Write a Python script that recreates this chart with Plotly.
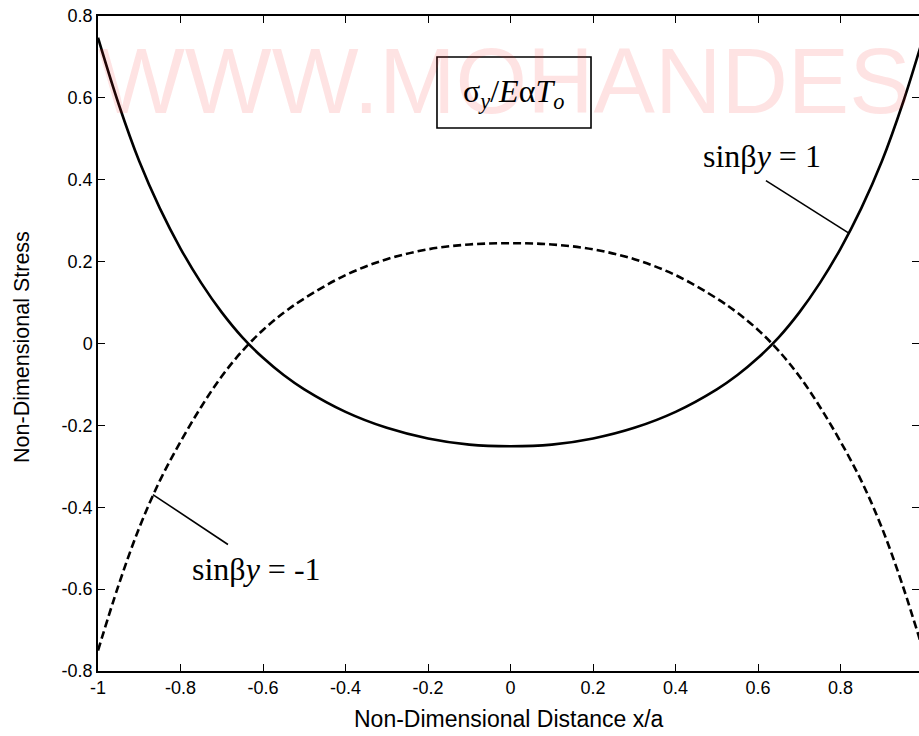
import plotly.graph_objects as go

# x/a positions and the two stress curves
x_pos = [-1.0, -0.95, -0.9, -0.85, -0.8, -0.75, -0.7, -0.65, -0.6, -0.55, -0.5, -0.4, -0.3, -0.2, -0.1,
         0.0, 0.1, 0.2, 0.3, 0.4, 0.5, 0.55, 0.6, 0.65, 0.7, 0.75, 0.8, 0.85, 0.9, 0.95, 1.0]
stress_pos = [0.747, 0.585, 0.445, 0.33, 0.232, 0.148, 0.076, 0.015, -0.035, -0.077, -0.112, -0.167, -0.206, -0.232, -0.247,
              -0.251, -0.247, -0.232, -0.206, -0.167, -0.112, -0.077, -0.035, 0.015, 0.076, 0.148, 0.232, 0.33, 0.445, 0.585, 0.747]
stress_neg = [-0.75, -0.59, -0.45, -0.335, -0.24, -0.155, -0.08, -0.018, 0.033, 0.075, 0.11, 0.167, 0.206, 0.23, 0.242,
              0.245, 0.242, 0.23, 0.206, 0.167, 0.11, 0.075, 0.033, -0.018, -0.08, -0.155, -0.24, -0.335, -0.45, -0.59, -0.75]

x_ticks = [-1, -0.8, -0.6, -0.4, -0.2, 0, 0.2, 0.4, 0.6, 0.8]
x_labels = ['-1', '-0.8', '-0.6', '-0.4', '-0.2', '0', '0.2', '0.4', '0.6', '0.8']
y_ticks = [-0.8, -0.6, -0.4, -0.2, 0, 0.2, 0.4, 0.6, 0.8]
y_labels = ['-0.8', '-0.6', '-0.4', '-0.2', '0', '0.2', '0.4', '0.6', '0.8']

fig = go.Figure()
fig.add_trace(go.Scatter(x=x_pos, y=stress_pos, mode='lines', line_shape='spline',
                         line=dict(color='black', width=2.6), name='sinβy = 1'))
fig.add_trace(go.Scatter(x=x_pos, y=stress_neg, mode='lines', line_shape='spline',
                         line=dict(color='black', width=2.6, dash='8px,4px'), name='sinβy = -1'))
# invisible copy on the right-hand axis so its ticks get drawn
fig.add_trace(go.Scatter(x=x_pos, y=stress_pos, yaxis='y2', mode='lines', line=dict(width=0),
                         hoverinfo='skip', showlegend=False))

serif = 'Liberation Serif, Times New Roman, serif'
sans = 'Liberation Sans, Arial, Helvetica, sans-serif'

ann = [
    # watermark
    dict(text='WWW.MOHANDES', x=0.495, y=0.9, xref='paper', yref='paper', showarrow=False,
         xanchor='center', yanchor='middle', font=dict(family=sans, size=92, color='rgba(245,40,40,0.13)')),
    dict(text='σ<sub><i>y</i></sub>/<i>E</i>α<i>T</i><sub><i>o</i></sub>', x=0.5055, y=0.8824,
         xref='paper', yref='paper', showarrow=False, xanchor='center', yanchor='middle',
         font=dict(family=serif, size=32, color='black')),
    dict(text='sinβ<i>y</i> = 1', x=0.61, y=0.457, showarrow=False, xanchor='center', yanchor='middle',
         font=dict(family=serif, size=32, color='black')),
    dict(text='sinβ<i>y</i> = -1', x=-0.617, y=-0.552, showarrow=False, xanchor='center', yanchor='middle',
         font=dict(family=serif, size=32, color='black')),
    dict(text='Non-Dimensional Distance x/a', x=0.5006, y=-0.0733, xref='paper', yref='paper',
         showarrow=False, xanchor='center', yanchor='middle', font=dict(family=sans, size=23, color='black')),
    dict(text='Non-Dimensional Stress', x=-0.0926, y=0.4947, xref='paper', yref='paper', textangle=-90,
         showarrow=False, xanchor='center', yanchor='middle', font=dict(family=sans, size=21.5, color='black')),
]

shapes = [
    dict(type='rect', xref='paper', yref='paper', x0=0.4129, x1=0.6005, y0=0.829, y1=0.9374,
         line=dict(color='black', width=1.6)),
    dict(type='line', x0=0.619, y0=0.398, x1=0.818, y1=0.271, line=dict(color='black', width=1.6)),
    dict(type='line', x0=-0.685, y0=-0.491, x1=-0.867, y1=-0.369, line=dict(color='black', width=1.6)),
]

axis_common = dict(showgrid=False, zeroline=False, showline=True, linecolor='black', linewidth=1.5,
                   ticks='inside', ticklen=7, tickwidth=1.3, tickcolor='black',
                   tickfont=dict(family=sans, size=18, color='black'))

fig.update_layout(
    width=919, height=736, autosize=False,
    margin=dict(l=98, r=0, t=16, b=65),
    paper_bgcolor='white', plot_bgcolor='white',
    showlegend=False,
    annotations=ann, shapes=shapes,
    xaxis=dict(range=[-1, 0.99], tickmode='array', tickvals=x_ticks, ticktext=x_labels,
               mirror='ticks', **axis_common),
    yaxis=dict(range=[-0.8, 0.8], tickmode='array', tickvals=y_ticks, ticktext=y_labels,
               mirror=False, **axis_common),
    # right-hand ticks only; the right frame edge lies just outside the picture
    yaxis2=dict(overlaying='y', side='right', range=[-0.8, 0.8], tickmode='array', tickvals=y_ticks,
                showticklabels=False, showgrid=False, zeroline=False, showline=False,
                ticks='inside', ticklen=7, tickwidth=1.3, tickcolor='black'),
)

# drop the default page margin so the figure sits at the window's corner
fig.write_html("out.html", config={'displayModeBar': False},
               post_script="document.body.style.margin='0';")
